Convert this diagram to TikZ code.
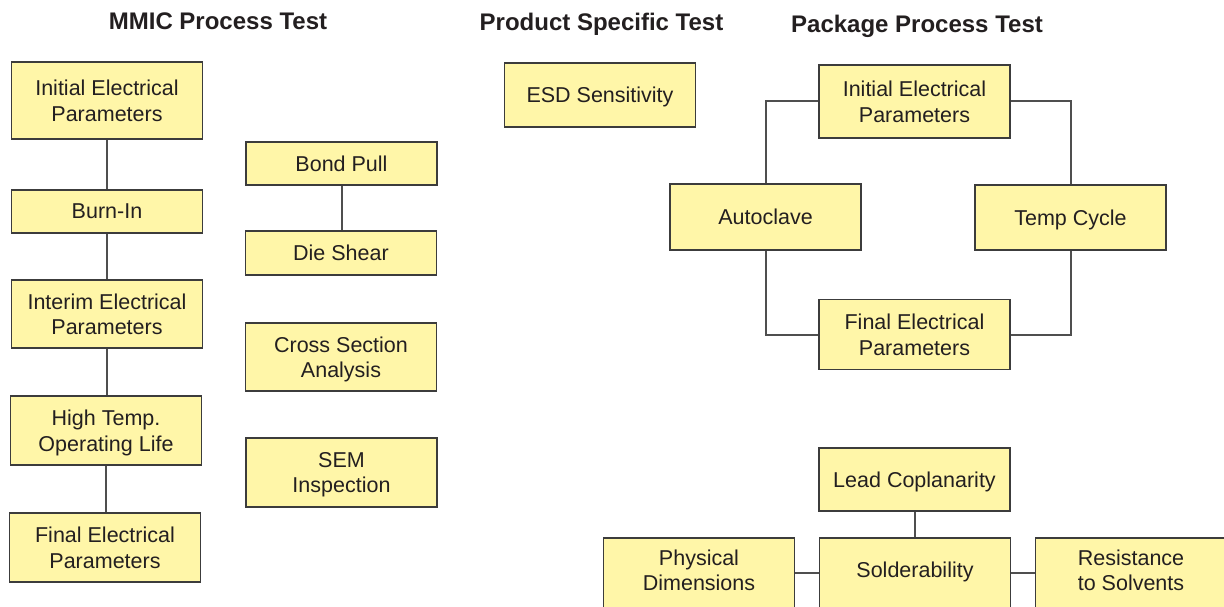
\documentclass[tikz,border=0pt]{standalone}
\usepackage{fontspec}
\setmainfont{Liberation Sans}
\definecolor{boxfill}{HTML}{FFF6A8}
\definecolor{boxline}{HTML}{3C3C3C}
\definecolor{linkline}{HTML}{4F4F4F}
\definecolor{ink}{HTML}{231F20}
\tikzset{
  testbox/.style={draw=boxline, line width=1.3pt, fill=boxfill, text=ink,
    align=center, inner sep=0pt, minimum width=191pt, text depth=0pt,
    font=\fontsize{21.5}{25.5}\selectfont},
  lowbox/.style={testbox, minimum height=70pt, text depth=6pt},
  heading/.style={anchor=base, text=ink, inner sep=0pt,
    font=\fontsize{24}{28}\selectfont\bfseries},
  link/.style={draw=linkline, line width=2pt}
}
\begin{document}
\begin{tikzpicture}[x=1pt, y=-1pt]
\clip (0,0) rectangle (1224,607);
\fill[white] (0,0) rectangle (1224,607);

% column headings
\node[heading] (hMMIC) at (218,30) {MMIC Process Test};
\node[heading] (hProd) at (601.5,31) {Product Specific Test};
\node[heading] (hPack) at (917,33) {Package Process Test};

% MMIC process chain
\node[testbox, minimum height=77pt] (mi1) at (107,100.5) {Initial Electrical\\Parameters};
\node[testbox, minimum height=43pt] (mi2) at (107,211.5) {Burn-In};
\node[testbox, minimum height=68pt] (mi3) at (107,314) {Interim Electrical\\Parameters};
\node[testbox, minimum height=69pt] (mi4) at (106,430.5) {High Temp.\\Operating Life};
\node[testbox, minimum height=69pt] (mi5) at (105,547.5) {Final Electrical\\Parameters};

\draw[link] (mi1.south) -- (mi1.south |- mi2.north);
\draw[link] (mi2.south) -- (mi2.south |- mi3.north);
\draw[link] (mi3.south) -- (mi3.south |- mi4.north);
\draw[link] (mi4.south) -- (mi4.south |- mi5.north);

% MMIC side tests
\node[testbox, minimum height=43pt] (bp) at (341.5,163.5) {Bond Pull};
\node[testbox, minimum height=44pt] (ds) at (341,253) {Die Shear};
\node[testbox, minimum height=68pt] (cs) at (341,357) {Cross Section\\Analysis};
\node[testbox, minimum height=69pt] (sem) at (341.5,472.5) {SEM\\Inspection};
\draw[link] (bp.south) -- (bp.south |- ds.north);

% product specific
\node[testbox, minimum height=64pt] (esd) at (600,95) {ESD Sensitivity};

% package process loop
\node[testbox, minimum height=73pt] (pi) at (914.5,101.5) {Initial Electrical\\Parameters};
\node[testbox, minimum height=66pt] (ac) at (765.5,217) {Autoclave};
\node[testbox, minimum height=65pt] (tc) at (1070.5,217.5) {Temp Cycle};
\node[testbox, minimum height=70pt] (pf) at (914.5,334.5) {Final Electrical\\Parameters};

\draw[link] (pi.west) -| (ac.north);
\draw[link] (pi.east) -| (tc.north);
\draw[link] (pf.west) -| (ac.south);
\draw[link] (pf.east) -| (tc.south);

% package mechanical tests
\node[testbox, minimum height=63pt] (lc) at (914.5,479.5) {Lead Coplanarity};
\node[lowbox] (sd) at (915,573) {Solderability};
\node[lowbox] (pd) at (699,573) {Physical\\Dimensions};
\node[lowbox] (rs) at (1131,573) {Resistance\\to Solvents};

\draw[link] (lc.south) -- (lc.south |- sd.north);
\draw[link] (pd.east) -- (sd.west);
\draw[link] (sd.east) -- (rs.west);
\end{tikzpicture}
\end{document}
